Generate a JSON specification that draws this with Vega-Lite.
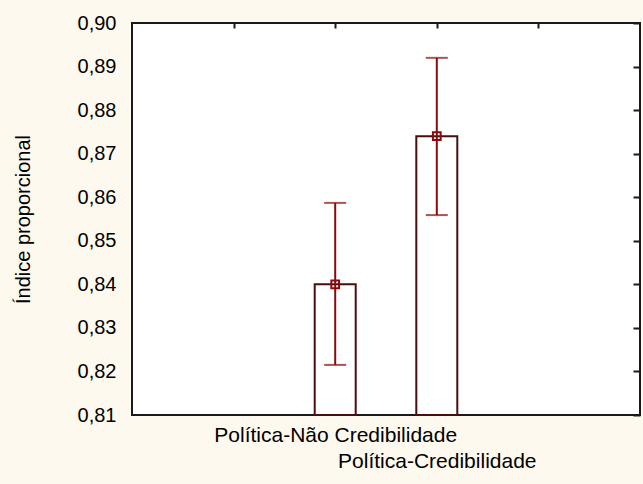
{
  "$schema": "https://vega.github.io/schema/vega-lite/v6.json",
  "width": 508,
  "height": 392,
  "autosize": "none",
  "padding": {"left": 132, "top": 23, "right": 3, "bottom": 69},
  "background": "#fef9ee",
  "config": {
    "view": {"fill": "white", "stroke": "#1a1a1a", "strokeWidth": 2},
    "font": "Liberation Sans"
  },
  "data": {
    "values": [
      {"grupo": "Política-Não Credibilidade", "media": 0.840, "inferior": 0.8215, "superior": 0.8587},
      {"grupo": "Política-Credibilidade", "media": 0.874, "inferior": 0.8559, "superior": 0.892}
    ]
  },
  "resolve": {"axis": {"x": "independent", "y": "independent"}},
  "layer": [
    {
      "mark": {"type": "bar", "width": 41, "fill": "white", "stroke": "#4a0e0e", "strokeWidth": 2},
      "encoding": {
        "x": {
          "field": "grupo", "type": "nominal",
          "scale": {"type": "point", "domain": ["_a", "Política-Não Credibilidade", "Política-Credibilidade", "_b"], "padding": 1},
          "axis": {
            "orient": "bottom", "title": null, "ticks": false, "domain": false, "labelAngle": 0,
            "labelFontSize": 21, "labelColor": "#000", "labelPadding": 9, "labelBaseline": "top",
            "labelLineHeight": 26, "labelOverlap": false, "labelBound": false, "labelFlush": false, "labelLimit": 0,
            "labelExpr": "datum.label == 'Política-Credibilidade' ? ['', datum.label] : (datum.label[0] == '_' ? '' : datum.label)"
          }
        },
        "y": {
          "field": "media", "type": "quantitative",
          "scale": {"domain": [0.81, 0.90], "zero": false, "nice": false},
          "axis": {
            "orient": "left", "title": "Índice proporcional",
            "values": [0.81, 0.82, 0.83, 0.84, 0.85, 0.86, 0.87, 0.88, 0.89, 0.90],
            "labelExpr": "replace(format(datum.value, '.2f'), '.', ',')",
            "ticks": false, "domain": false, "grid": false,
            "labelFontSize": 20, "labelColor": "#000", "labelPadding": 16,
            "titleFontSize": 20, "titleFontWeight": "normal", "titleColor": "#000", "titlePadding": 44
          }
        },
        "y2": {"datum": 0.81}
      }
    },
    {
      "mark": {"type": "rule", "color": "#8b0a0a", "strokeWidth": 2},
      "encoding": {
        "x": {
          "field": "grupo", "type": "nominal",
          "axis": {"orient": "top", "title": null, "labels": false, "domain": false, "ticks": true, "tickSize": -5, "tickColor": "#1a1a1a", "tickWidth": 2}
        },
        "y": {
          "field": "inferior", "type": "quantitative",
          "axis": {
            "orient": "right", "title": null, "labels": false, "domain": false, "grid": false,
            "values": [0.81, 0.82, 0.83, 0.84, 0.85, 0.86, 0.87, 0.88, 0.89, 0.90],
            "ticks": true, "tickSize": -7, "tickColor": "#1a1a1a", "tickWidth": 2
          }
        },
        "y2": {"field": "superior"}
      }
    },
    {
      "mark": {"type": "tick", "color": "#8b0a0a", "size": 22, "thickness": 2, "orient": "horizontal"},
      "encoding": {
        "x": {"field": "grupo", "type": "nominal", "axis": null},
        "y": {"field": "superior", "type": "quantitative", "axis": null}
      }
    },
    {
      "mark": {"type": "tick", "color": "#8b0a0a", "size": 22, "thickness": 2, "orient": "horizontal"},
      "encoding": {
        "x": {"field": "grupo", "type": "nominal", "axis": null},
        "y": {"field": "inferior", "type": "quantitative", "axis": null}
      }
    },
    {
      "mark": {"type": "point", "shape": "square", "size": 60, "filled": false, "stroke": "#8b0a0a", "strokeWidth": 2, "opacity": 1},
      "encoding": {
        "x": {"field": "grupo", "type": "nominal", "axis": null},
        "y": {"field": "media", "type": "quantitative", "axis": null}
      }
    }
  ]
}
